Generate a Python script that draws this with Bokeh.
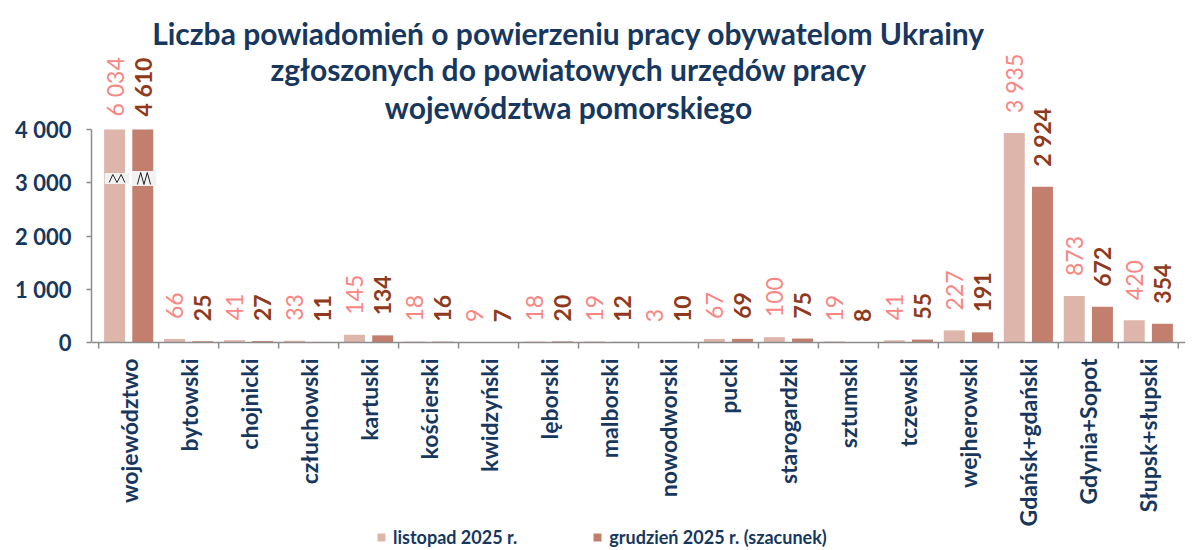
import math
from bokeh.plotting import figure
from bokeh.models import (ColumnDataSource, FactorRange, Range1d, FixedTicker,
                          Legend, LegendItem, Label)
from bokeh.core.properties import value
from bokeh.transform import dodge
from bokeh.embed import file_html
from bokeh.resources import INLINE

# ---------------- data ----------------
categories = ["województwo", "bytowski", "chojnicki", "człuchowski", "kartuski",
              "kościerski", "kwidzyński", "lęborski", "malborski", "nowodworski",
              "pucki", "starogardzki", "sztumski", "tczewski", "wejherowski",
              "Gdańsk+gdański", "Gdynia+Sopot", "Słupsk+słupski"]
listopad = [6034, 66, 41, 33, 145, 18, 9, 18, 19, 3, 67, 100, 19, 41, 227, 3935, 873, 420]
grudzien = [4610, 25, 27, 11, 134, 16, 7, 20, 12, 10, 69, 75, 8, 55, 191, 2924, 672, 354]
y_ticks = [0, 1000, 2000, 3000, 4000]
series_names = ["listopad 2025 r.", "grudzień 2025 r. (szacunek)"]
title_lines = ["Liczba powiadomień o powierzeniu pracy obywatelom Ukrainy",
               "zgłoszonych do powiatowych urzędów pracy",
               "województwa pomorskiego"]
CAP = 4000          # axis is broken above this value
BREAK_LEVEL = 3080  # where the break marks are drawn

# ---------------- style ----------------
NAVY = "#17375E"
LIGHT = "#DEB5AA"
DARK = "#C27F6E"
LIGHT_TXT = "#F98683"
DARK_TXT = "#8F3A1C"
AXIS_GRAY = "#8C8C8C"
FONT = "Lato"

W, H = 1192, 550
LEFT = 91
RIGHT = 7
ZERO_PX = 342      # y pixel (from top of figure) of value 0
CAP_PX = 129       # y pixel of value 4000
px_per_unit = (ZERO_PX - CAP_PX) / CAP
y_end = ZERO_PX / px_per_unit
y_start = -(H - ZERO_PX) / px_per_unit

def fmt(v):
    return f"{v:,}".replace(",", " ")

OFF = 0.235
BW = 0.35

src = ColumnDataSource(dict(
    cat=categories,
    nov_top=[min(v, CAP) for v in listopad],
    dec_top=[min(v, CAP) for v in grudzien],
    nov_lbl=[fmt(v) for v in listopad],
    dec_lbl=[fmt(v) for v in grudzien],
    nov_off=[-13 if v > CAP else -20 for v in listopad],
    dec_off=[-13 if v > CAP else -20 for v in grudzien],
))

x_range = FactorRange(*categories, range_padding=0.12, range_padding_units="absolute")
p = figure(width=W, height=H, x_range=x_range, y_range=Range1d(y_start, y_end),
           output_backend="svg", toolbar_location=None, title_location=None,
           min_border_left=LEFT, min_border_right=RIGHT, min_border_top=0, min_border_bottom=0)
p.outline_line_color = None
p.xgrid.visible = False
p.ygrid.visible = False
p.background_fill_color = "white"
p.border_fill_color = "white"

r1 = p.vbar(x=dodge("cat", -OFF, range=p.x_range), top="nov_top", width=BW, source=src,
            fill_color=LIGHT, line_color=None)
r2 = p.vbar(x=dodge("cat", OFF, range=p.x_range), top="dec_top", width=BW, source=src,
            fill_color=DARK, line_color=None)

# value labels
p.text(x=dodge("cat", -OFF, range=p.x_range), y="nov_top", text="nov_lbl", source=src,
       angle=math.pi / 2, text_align="left", text_baseline="middle", y_offset="nov_off",
       text_font=value(FONT), text_font_size="23px", text_color=LIGHT_TXT,
       text_font_style="normal")
p.text(x=dodge("cat", OFF, range=p.x_range), y="dec_top", text="dec_lbl", source=src,
       angle=math.pi / 2, text_align="left", text_baseline="middle", y_offset="dec_off",
       text_font=value(FONT), text_font_size="23px", text_color=DARK_TXT,
       text_font_style="bold")

# break marks on the first (capped) category
first = categories[0]
bh1 = 11 / px_per_unit
bh2 = 15 / px_per_unit
p.rect(x=[(first, -OFF + 0.04), (first, OFF + 0.02)], y=[BREAK_LEVEL, BREAK_LEVEL], width=0.41,
       height=[bh1, bh2], fill_color="#F2F2F2", line_color=None)
zz1 = [(first, -OFF + 0.04 + d) for d in (-0.13, -0.07, 0.0, 0.07, 0.13)]
zz2 = [(first, OFF + 0.02 + d) for d in (-0.11, -0.055, 0.0, 0.055, 0.11)]
u1 = 4 / px_per_unit
u2 = 6 / px_per_unit
p.multi_line(xs=[zz1, zz2],
             ys=[[BREAK_LEVEL - u1, BREAK_LEVEL + u1, BREAK_LEVEL - u1, BREAK_LEVEL + u1, BREAK_LEVEL - u1],
                 [BREAK_LEVEL - u2, BREAK_LEVEL + u2, BREAK_LEVEL - u2, BREAK_LEVEL + u2, BREAK_LEVEL - u2]],
             line_color="#222222", line_width=1)

# x axis at value 0, ticks at category boundaries
tick_units = 6 / px_per_unit
p.segment(x0=dodge("cat", -0.5, range=p.x_range), x1=dodge("cat", -0.5, range=p.x_range),
          y0=0, y1=-tick_units, source=src, line_color=AXIS_GRAY, line_width=1.5)
p.segment(x0=[(categories[-1], 0.5)], x1=[(categories[-1], 0.5)], y0=[0], y1=[-tick_units],
          line_color=AXIS_GRAY, line_width=1.5)

xa = p.xaxis[0]
xa.fixed_location = 0
xa.axis_line_color = AXIS_GRAY
xa.axis_line_width = 1.5
xa.major_tick_line_color = None
xa.major_tick_out = 0
xa.major_tick_in = 0
xa.major_label_orientation = math.pi / 2
xa.major_label_standoff = 16
xa.major_label_text_font = FONT
xa.major_label_text_font_size = "23px"
xa.major_label_text_font_style = "bold"
xa.major_label_text_color = NAVY

ya = p.yaxis[0]
ya.bounds = (0, CAP)
ya.ticker = FixedTicker(ticks=y_ticks)
ya.major_label_overrides = {t: fmt(t) for t in y_ticks}
ya.axis_line_color = AXIS_GRAY
ya.axis_line_width = 1.5
ya.major_tick_line_color = AXIS_GRAY
ya.major_tick_line_width = 1.5
ya.major_tick_out = 5
ya.major_tick_in = 0
ya.minor_tick_line_color = None
ya.major_label_standoff = 15
ya.major_label_text_font = FONT
ya.major_label_text_font_size = "22px"
ya.major_label_text_font_style = "bold"
ya.major_label_text_color = NAVY

# title (three centred lines)
for line, baseline in zip(title_lines, [32, 68, 106]):
    p.add_layout(Label(x=568 - LEFT, y=H - baseline, x_units="screen", y_units="screen",
                       text=line, text_align="center", text_baseline="alphabetic",
                       text_font=FONT, text_font_size="30px", text_font_style="bold",
                       text_color=NAVY))

legend = Legend(items=[LegendItem(label=series_names[0], renderers=[r1]),
                       LegendItem(label=series_names[1], renderers=[r2])],
                orientation="horizontal", location=(376 - LEFT, 2),
                glyph_width=10, glyph_height=10, label_height=12, label_standoff=7,
                spacing=75, padding=0, margin=0,
                background_fill_alpha=0, border_line_color=None,
                label_text_font=FONT, label_text_font_size="18px",
                label_text_font_style="bold", label_text_color=NAVY)
p.add_layout(legend, "center")

open("out.html", "w").write(file_html(p, INLINE))
